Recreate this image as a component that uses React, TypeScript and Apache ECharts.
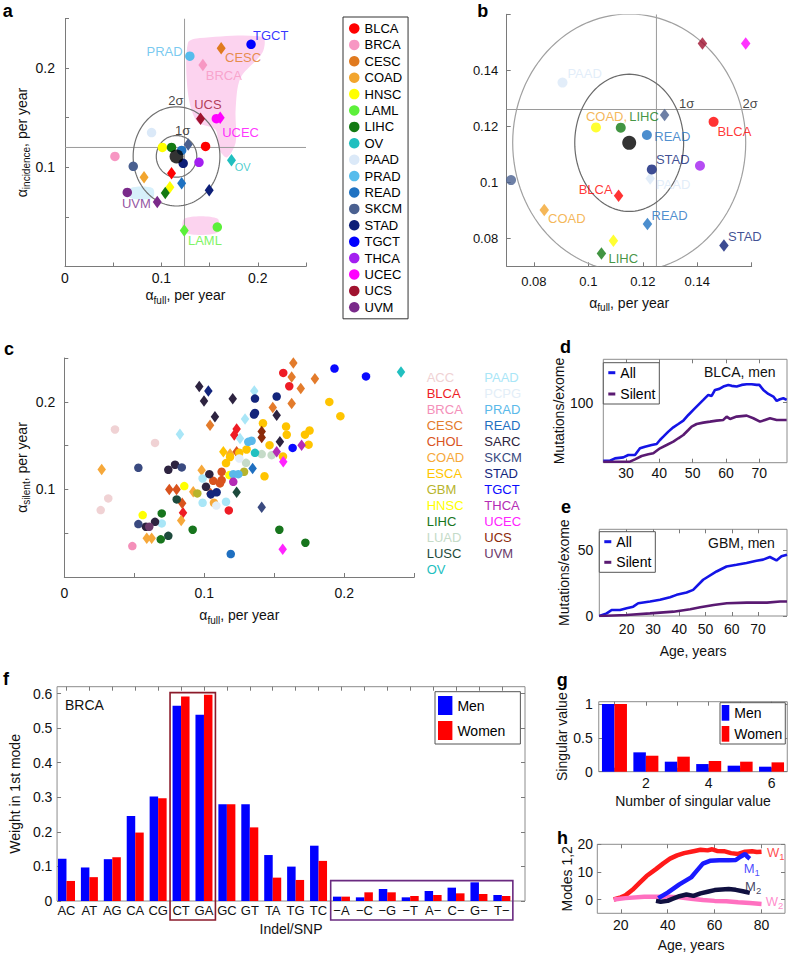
import { useEffect, useRef } from 'react';
import * as echarts from 'echarts';

const FONT = "'Liberation Sans', Arial, Helvetica, sans-serif";
const AXIS = '#7a7a7a';
const BOX = '#8c8c8c';
const TXT = '#111111';

// ---------------- panel a ----------------
const aTypes = ['BLCA', 'BRCA', 'CESC', 'COAD', 'HNSC', 'LAML', 'LIHC', 'OV', 'PAAD', 'PRAD', 'READ', 'SKCM', 'STAD', 'TGCT', 'THCA', 'UCEC', 'UCS', 'UVM'];
const aColors: Record<string, string> = {
  BLCA: '#ff0000', BRCA: '#f797c3', CESC: '#e07a1f', COAD: '#f2a52e', HNSC: '#ffff00', LAML: '#5cf03a',
  LIHC: '#137a13', OV: '#20bfbf', PAAD: '#dbe9f8', PRAD: '#56bcec', READ: '#1f72c2', SKCM: '#4a6090',
  STAD: '#0d1f78', TGCT: '#0000ff', THCA: '#a31ff0', UCEC: '#ff00ff', UCS: '#a0122f', UVM: '#7a2a8a',
};
const aPoints: [string, number, number, string][] = [
  ['BLCA', 0.1458, 0.121, 'c'], ['BLCA', 0.1105, 0.094, 'd'],
  ['BRCA', 0.0518, 0.111, 'c'], ['BRCA', 0.143, 0.203, 'd'],
  ['CESC', 0.162, 0.22, 'd'],
  ['COAD', 0.082, 0.09, 'd'],
  ['HNSC', 0.101, 0.12, 'c'], ['HNSC', 0.1088, 0.08, 'd'],
  ['LAML', 0.158, 0.0397, 'c'], ['LAML', 0.1237, 0.0364, 'd'],
  ['LIHC', 0.1105, 0.12, 'c'], ['LIHC', 0.104, 0.074, 'd'],
  ['OV', 0.1727, 0.107, 'd'],
  ['PAAD', 0.0898, 0.135, 'c'],
  ['PRAD', 0.1295, 0.212, 'c'],
  ['READ', 0.121, 0.117, 'c'], ['READ', 0.121, 0.084, 'd'],
  ['SKCM', 0.0708, 0.101, 'c'], ['SKCM', 0.1278, 0.123, 'd'],
  ['STAD', 0.1226, 0.104, 'c'], ['STAD', 0.1496, 0.0768, 'd'],
  ['TGCT', 0.193, 0.224, 'c'],
  ['THCA', 0.139, 0.105, 'c'],
  ['UCEC', 0.157, 0.149, 'c'], ['UCEC', 0.161, 0.15, 'd'],
  ['UCS', 0.1406, 0.149, 'd'],
  ['UVM', 0.0646, 0.0747, 'c'], ['UVM', 0.0957, 0.065, 'd'],
];
const aMean = [0.1157, 0.111];
const aSigma = [[0.021, 0.021], [0.045, 0.05]];
const aRef = [0.124, 0.12];
const aRange = [0, 0.25];
const aSigmaLabels: [string, number, number][] = [['2σ', 0.107, 0.1677], ['1σ', 0.114, 0.1374]];
const aLabels: [string, number, number, string][] = [
  ['TGCT', 0.195, 0.233, 'r'], ['PRAD', 0.122, 0.217, 'l'], ['CESC', 0.166, 0.211, 'r'], ['BRCA', 0.146, 0.193, 'r'],
  ['UCS', 0.134, 0.163, 'r'], ['UCEC', 0.163, 0.135, 'r'], ['OV', 0.176, 0.1, 'r'], ['UVM', 0.059, 0.0636, 'r'],
  ['LAML', 0.1275, 0.026, 'r'],
];
const aPinkUpper = [[0.1275, 0.2253], [0.14, 0.2303], [0.205, 0.2313], [0.205, 0.216], [0.182, 0.19], [0.177, 0.158], [0.177, 0.125], [0.168, 0.11], [0.16, 0.118], [0.156, 0.138], [0.137, 0.146], [0.1275, 0.175]];
const aPinkLower = [[0.124, 0.0485], [0.158, 0.0485], [0.158, 0.034], [0.124, 0.034]];
const aBlue = [[0.068, 0.079], [0.091, 0.079], [0.091, 0.069], [0.068, 0.069]];

// ---------------- panel b ----------------
const bPoints: [string, number, number, string][] = [
  ['UCS', 0.1419, 0.1496, 'd'], ['UCEC', 0.1578, 0.1496, 'd'],
  ['PAAD', 0.0905, 0.1356, 'c'], ['PAAD', 0.1227, 0.1014, 'd'],
  ['SKCM', 0.128, 0.124, 'd'], ['SKCM', 0.0716, 0.1008, 'c'],
  ['BLCA', 0.146, 0.1216, 'c'], ['BLCA', 0.1111, 0.0952, 'd'],
  ['HNSC', 0.1028, 0.1196, 'c'], ['HNSC', 0.1092, 0.0791, 'd'],
  ['LIHC', 0.1119, 0.1195, 'c'], ['LIHC', 0.1048, 0.0746, 'd'],
  ['READ', 0.1215, 0.1169, 'c'], ['READ', 0.1217, 0.0851, 'd'],
  ['THCA', 0.141, 0.1059, 'c'],
  ['STAD', 0.1233, 0.1046, 'c'], ['STAD', 0.1498, 0.0774, 'd'],
  ['COAD', 0.0838, 0.0901, 'd'],
];
const bMean = [0.115, 0.1141];
const bSigma = [[0.02, 0.0245], [0.0428, 0.046]];
const bRef = [0.125, 0.126];
const bRange = [0.07, 0.16];
const bSigmaLabels: [string, number, number][] = [['1σ', 0.1333, 0.128], ['2σ', 0.1566, 0.128]];
const bLabels: [string, string, number, number, string][] = [
  ['PAAD', 'PAAD', 0.0923, 0.1387, 'r'], ['COAD,', 'COAD', 0.0991, 0.1234, 'r'], ['LIHC', 'LIHC', 0.115, 0.1234, 'r'],
  ['READ', 'READ', 0.1242, 0.1165, 'r'], ['BLCA', 'BLCA', 0.1474, 0.1183, 'r'], ['STAD', 'STAD', 0.1248, 0.1082, 'r'],
  ['PAAD', 'PAAD', 0.1248, 0.0993, 'r'], ['BLCA', 'BLCA', 0.1089, 0.0976, 'l'], ['COAD', 'COAD', 0.0852, 0.0871, 'r'],
  ['READ', 'READ', 0.1232, 0.0883, 'r'], ['STAD', 'STAD', 0.1513, 0.0806, 'r'], ['LIHC', 'LIHC', 0.1074, 0.0729, 'r'],
];

// ---------------- panel c ----------------
const cLeg1 = ['ACC', 'BLCA', 'BRCA', 'CESC', 'CHOL', 'COAD', 'ESCA', 'GBM', 'HNSC', 'LIHC', 'LUAD', 'LUSC', 'OV'];
const cLeg2 = ['PAAD', 'PCPG', 'PRAD', 'READ', 'SARC', 'SKCM', 'STAD', 'TGCT', 'THCA', 'UCEC', 'UCS', 'UVM'];
const cColors: Record<string, string> = {
  ACC: '#f0d2d4', BLCA: '#ee1c25', BRCA: '#f48fb9', CESC: '#e37b2b', CHOL: '#d9531e', COAD: '#f6a83a',
  ESCA: '#ffc400', GBM: '#b7b42c', HNSC: '#ffff00', LIHC: '#17751d', LUAD: '#c5dbc8', LUSC: '#1d4a3c',
  OV: '#21c0c0', PAAD: '#a9e6f7', PCPG: '#e3eef8', PRAD: '#5ab9ea', READ: '#1f6fc0', SARC: '#2d2340',
  SKCM: '#3a4a80', STAD: '#13257c', TGCT: '#0a0aff', THCA: '#b52cb5', UCEC: '#ff24ff', UCS: '#8b2a0a', UVM: '#6b3a6b',
};
const cPoints: [string, number, number, string][] = [
  ['TGCT', 0.193, 0.238, 'c'], ['TGCT', 0.2155, 0.229, 'c'], ['TGCT', 0.1631, 0.1474, 'c'],
  ['OV', 0.2405, 0.234, 'd'], ['OV', 0.1362, 0.1417, 'c'],
  ['CESC', 0.1636, 0.2444, 'd'], ['CESC', 0.1624, 0.2284, 'd'], ['CESC', 0.179, 0.2263, 'd'], ['CESC', 0.1689, 0.2151, 'd'], ['CESC', 0.1624, 0.198, 'd'], ['CESC', 0.1041, 0.1733, 'd'], ['CESC', 0.1489, 0.1935, 'd'],
  ['BLCA', 0.1564, 0.233, 'c'], ['BLCA', 0.1607, 0.2178, 'c'], ['BLCA', 0.1175, 0.076, 'c'], ['BLCA', 0.1231, 0.169, 'd'], ['BLCA', 0.1214, 0.1622, 'd'], ['BLCA', 0.0848, 0.0733, 'd'],
  ['ESCA', 0.1893, 0.1999, 'c'], ['ESCA', 0.1972, 0.1836, 'c'], ['ESCA', 0.1419, 0.1755, 'c'], ['ESCA', 0.1584, 0.1718, 'c'], ['ESCA', 0.1589, 0.1624, 'c'], ['ESCA', 0.1719, 0.1625, 'c'], ['ESCA', 0.1752, 0.1672, 'c'], ['ESCA', 0.1745, 0.1511, 'c'], ['ESCA', 0.1562, 0.1376, 'c'], ['ESCA', 0.1466, 0.1505, 'c'], ['ESCA', 0.1155, 0.13, 'c'], ['ESCA', 0.1184, 0.137, 'c'], ['ESCA', 0.1302, 0.1456, 'c'], ['ESCA', 0.125, 0.1418, 'c'], ['ESCA', 0.143, 0.115, 'c'], ['ESCA', 0.1136, 0.1429, 'd'],
  ['STAD', 0.1517, 0.206, 'c'], ['STAD', 0.1362, 0.2037, 'c'], ['STAD', 0.1362, 0.1873, 'c'], ['STAD', 0.1355, 0.1855, 'c'], ['STAD', 0.1088, 0.0967, 'c'], ['STAD', 0.1047, 0.0945, 'c'], ['STAD', 0.1029, 0.2124, 'd'],
  ['SARC', 0.0964, 0.2175, 'd'], ['SARC', 0.0998, 0.201, 'd'], ['SARC', 0.1203, 0.2035, 'd'], ['SARC', 0.1076, 0.1828, 'd'], ['SARC', 0.1517, 0.1847, 'd'], ['SARC', 0.154, 0.1543, 'd'], ['SARC', 0.1012, 0.103, 'c'], ['SARC', 0.1036, 0.1174, 'c'], ['SARC', 0.0743, 0.1224, 'c'], ['SARC', 0.0791, 0.1282, 'c'], ['SARC', 0.0583, 0.0574, 'c'], ['SARC', 0.0648, 0.063, 'c'],
  ['UVM', 0.0607, 0.0574, 'c'],
  ['SKCM', 0.0529, 0.1247, 'c'], ['SKCM', 0.0839, 0.1251, 'c'], ['SKCM', 0.0529, 0.0604, 'c'], ['SKCM', 0.141, 0.0795, 'd'],
  ['PAAD', 0.0826, 0.163, 'd'], ['PAAD', 0.1291, 0.1804, 'd'], ['PAAD', 0.1357, 0.2124, 'd'], ['PAAD', 0.1255, 0.1581, 'd'], ['PAAD', 0.0988, 0.1125, 'c'], ['PAAD', 0.0988, 0.0847, 'c'], ['PAAD', 0.1155, 0.0859, 'c'], ['PAAD', 0.0696, 0.0612, 'c'],
  ['PCPG', 0.125, 0.1353, 'c'], ['PCPG', 0.1086, 0.0815, 'c'],
  ['PRAD', 0.1314, 0.1543, 'c'], ['PRAD', 0.1338, 0.1555, 'c'], ['PRAD', 0.1207, 0.1174, 'c'], ['PRAD', 0.1243, 0.1174, 'c'],
  ['READ', 0.1189, 0.0262, 'c'], ['READ', 0.1345, 0.124, 'd'],
  ['GBM', 0.1284, 0.1201, 'c'], ['GBM', 0.095, 0.0954, 'c'],
  ['LUAD', 0.141, 0.1403, 'c'], ['LUAD', 0.1481, 0.1391, 'c'], ['LUAD', 0.1298, 0.1303, 'c'],
  ['THCA', 0.1695, 0.1505, 'd'], ['THCA', 0.1517, 0.1429, 'd'], ['THCA', 0.1207, 0.1087, 'c'],
  ['UCEC', 0.1564, 0.1315, 'd'], ['UCEC', 0.156, 0.0316, 'd'],
  ['UCS', 0.141, 0.166, 'd'], ['UCS', 0.141, 0.1592, 'd'],
  ['LIHC', 0.0917, 0.054, 'c'], ['LIHC', 0.1536, 0.054, 'c'], ['LIHC', 0.1722, 0.0391, 'c'], ['LIHC', 0.0696, 0.0726, 'c'], ['LIHC', 0.0689, 0.043, 'c'],
  ['LUSC', 0.0743, 0.047, 'c'], ['LUSC', 0.0803, 0.0886, 'c'], ['LUSC', 0.1231, 0.0967, 'd'],
  ['HNSC', 0.0857, 0.1038, 'c'], ['HNSC', 0.056, 0.0707, 'c'], ['HNSC', 0.1179, 0.1163, 'c'],
  ['COAD', 0.0267, 0.1228, 'd'], ['COAD', 0.0981, 0.122, 'd'], ['COAD', 0.0921, 0.0973, 'd'], ['COAD', 0.0835, 0.0645, 'd'], ['COAD', 0.0589, 0.0441, 'd'], ['COAD', 0.0624, 0.0441, 'd'], ['COAD', 0.1184, 0.1403, 'd'], ['COAD', 0.1069, 0.0847, 'c'],
  ['CHOL', 0.075, 0.1, 'd'], ['CHOL', 0.0802, 0.1, 'd'], ['CHOL', 0.0842, 0.0843, 'd'], ['CHOL', 0.1231, 0.1429, 'd'], ['CHOL', 0.1045, 0.0954, 'd'], ['CHOL', 0.1124, 0.1201, 'c'], ['CHOL', 0.1124, 0.1106, 'c'], ['CHOL', 0.1064, 0.1098, 'c'], ['CHOL', 0.1112, 0.1068, 'c'],
  ['ACC', 0.0362, 0.1684, 'c'], ['ACC', 0.0648, 0.1531, 'c'], ['ACC', 0.0314, 0.0897, 'c'], ['ACC', 0.026, 0.0764, 'c'],
  ['BRCA', 0.0486, 0.0353, 'c'],
];

// ---------------- panels d, e ----------------
const dAll = [[23.2, 3.3], [25.2, 3.3], [26.7, 7.2], [29.2, 8.9], [30.7, 12.8], [32.7, 12.8], [34.2, 23.9], [35.7, 26.7], [37.7, 29.4], [39.2, 31.1], [40.2, 37.8], [41.2, 43.3], [42.7, 51.7], [44.2, 58.9], [45.7, 64.4], [47.2, 70], [48.7, 79.4], [50.2, 87.8], [51.7, 96.1], [53.2, 104.4], [54.7, 112.8], [55.7, 111.1], [56.7, 121.1], [58, 122.8], [59.2, 126.7], [60.7, 129.4], [61.7, 127.8], [63.2, 126.7], [64.7, 129.4], [66.2, 130.6], [67.7, 130.6], [69.2, 129.4], [70, 129.4], [71.2, 121.1], [72.7, 114.4], [74.2, 110], [75.2, 102.8], [76.2, 105.6], [77.2, 107.2], [78.2, 104.4]];
const dSilent = [[23.2, 1.7], [31.2, 1.7], [32.7, 5.6], [34.7, 11.1], [36.7, 13.9], [38.2, 15.6], [40.2, 23.9], [42.2, 29.4], [44.2, 35], [45.7, 40.6], [47.2, 46.1], [48.7, 54.4], [49.7, 60], [51.2, 64.4], [53.2, 66.7], [55.2, 68.3], [57.2, 70], [59.2, 71.1], [60.2, 76.7], [61.2, 72.8], [63.2, 76.7], [66.2, 78.3], [68.2, 73.9], [70.2, 68.3], [71.7, 71.1], [73.2, 73.9], [75.2, 71.1], [78.2, 71.1]];
const eAll = [[9.6, 0], [12.4, 2], [14.3, 4.6], [17.5, 4.6], [20, 5.9], [22.5, 7.1], [24.4, 9.7], [28.9, 11], [32.7, 12.3], [36.5, 14.3], [39, 16.1], [42.8, 17.9], [45.3, 19.9], [49.1, 27.6], [54.2, 33.9], [58, 37.7], [61.8, 39], [65.6, 40.4], [69.4, 42.1], [71.9, 42.9], [74.5, 44.9], [77, 42.3], [78.9, 45.4], [81, 46.7]];
const eSilent = [[9.6, 0], [20, 0.8], [28.9, 2], [37.8, 3.3], [44.2, 5.1], [48, 6.6], [53.1, 8.4], [58.1, 9.7], [65.7, 10.2], [73.4, 10.2], [78.4, 11], [81, 11]];

// ---------------- panel f ----------------
const fCats = ['AC', 'AT', 'AG', 'CA', 'CG', 'CT', 'GA', 'GC', 'GT', 'TA', 'TG', 'TC', '\u2212A', '\u2212C', '\u2212G', '\u2212T', 'A\u2212', 'C\u2212', 'G\u2212', 'T\u2212'];
const fMen = [0.122, 0.097, 0.121, 0.246, 0.302, 0.565, 0.539, 0.28, 0.28, 0.133, 0.0995, 0.16, 0.0126, 0.0106, 0.0348, 0.0106, 0.029, 0.0386, 0.054, 0.0174];
const fWomen = [0.058, 0.069, 0.1266, 0.198, 0.297, 0.592, 0.597, 0.28, 0.213, 0.0676, 0.0609, 0.116, 0.0126, 0.0251, 0.0251, 0.0145, 0.0174, 0.0222, 0.0203, 0.0145];
const fBoxes = [[5.52, 7.5, 0.603], [12.53, 20.48, 0.059]];
const fBoxColors = ['#8b1a2a', '#6a2a80'];
const fYTicks = [0, 0.1, 0.2, 0.3, 0.4, 0.5, 0.6];

// ---------------- panel g ----------------
const gMen = [1, 0.286, 0.148, 0.113, 0.089, 0.074];
const gWomen = [1, 0.236, 0.222, 0.158, 0.148, 0.138];

// ---------------- panel h ----------------
const hW1 = [[17, 0], [20, 0.8], [22, 1.5], [25, 3.5], [28, 6], [31, 8.5], [35, 11], [38, 13], [41, 14.8], [44, 16], [47, 16.8], [51, 17.5], [54, 18], [57, 17.8], [59, 18.2], [61, 17.6], [64, 17.5], [67, 16.8], [70, 16.5], [73, 17.3], [76, 17.5], [78, 17.2], [80, 17.3]];
const hM1 = [[36, 0.5], [40, 2.5], [45, 5.5], [50, 8], [52, 10], [55, 13], [58, 14], [62, 14.2], [66, 14.2], [69, 14.3], [71, 15.5], [73, 16.5], [74, 15.5], [75, 14.8]];
const hM2 = [[35, -0.5], [37, -0.8], [40, -0.5], [42, 0.2], [45, 1.2], [48, 1.8], [51, 1.3], [54, 2.2], [57, 2.8], [60, 3.4], [63, 3.6], [66, 3.8], [69, 3.5], [72, 3], [75, 2.4]];
const hW2 = [[17, 0], [22, 0.5], [30, 1], [40, 1], [45, 0.8], [50, 0.3], [55, -0.2], [60, -0.5], [65, -0.6], [70, -1], [75, -1.3], [80, -1.6]];
const hLabels: [string, string, number, number, string][] = [
  ['W', '1', 82.3, 17.2, '#ff1a1a'], ['M', '1', 72.4, 11.2, '#1a1aff'], ['M', '2', 73, 4.7, '#101040'], ['W', '2', 81.8, -0.7, '#ff70c0'],
];

// ---------------- helpers ----------------
function fmtNum(v: any) {
  return String(parseFloat(Number(v).toFixed(4)));
}

const RICH = {
  g: { fontSize: 14, lineHeight: 20, fontFamily: FONT, color: TXT },
  s: { fontSize: 10, lineHeight: 12, verticalAlign: 'bottom', fontFamily: FONT, color: TXT },
};

function ax(o: any) {
  return {
    type: 'value',
    gridIndex: o.grid,
    position: o.pos,
    min: o.min,
    max: o.max,
    silent: true,
    splitLine: { show: false },
    axisLine: { show: !!o.line, onZero: false, lineStyle: { color: AXIS, width: 1 } },
    axisTick: o.ticks
      ? { show: true, inside: true, length: 4, customValues: o.ticks, lineStyle: { color: AXIS } }
      : { show: false },
    axisLabel: o.labels
      ? { show: true, customValues: o.labels, formatter: o.fmt || fmtNum, margin: o.margin, fontSize: o.fs || 14, color: TXT, fontFamily: FONT }
      : { show: false },
    name: o.name,
    nameLocation: 'middle',
    nameGap: o.gap,
    nameTextStyle: { fontSize: 14, color: TXT, fontFamily: FONT, rich: RICH },
  };
}

function ellipsePts(api: any, c: number[], r: number[]) {
  const pts: any[] = [];
  for (let k = 0; k <= 120; k++) {
    const t = (k / 120) * Math.PI * 2;
    pts.push(api.coord([c[0] + r[0] * Math.cos(t), c[1] + r[1] * Math.sin(t)]));
  }
  return pts;
}

function lineEl(p1: number[], p2: number[], color: string) {
  return { type: 'line', shape: { x1: p1[0], y1: p1[1], x2: p2[0], y2: p2[1] }, style: { stroke: color, lineWidth: 1 } };
}

function pointItems(list: [string, number, number, string][], colors: Record<string, string>, cs: number, ds: number[]) {
  return list.map((p) => ({
    value: [p[1], p[2]],
    symbol: p[3] === 'd' ? 'diamond' : 'circle',
    symbolSize: p[3] === 'd' ? ds : cs,
    itemStyle: { color: colors[p[0]] },
  }));
}

function buildOption() {
  const fPos = fCats.map((_, i) => i + 1);
  const gridBox = { show: true, borderColor: BOX, borderWidth: 1, backgroundColor: 'rgba(0,0,0,0)' };
  const grid = [
    { left: 65, top: 18.5, width: 241, height: 248 },
    { left: 506.7, top: 14.3, width: 245, height: 252 },
    { left: 64.3, top: 358, width: 350, height: 219 },
    { left: 603.3, top: 359.3, width: 183.7, height: 103.4, ...gridBox },
    { left: 599.3, top: 529.3, width: 187.7, height: 86.7, ...gridBox },
    { left: 47.7, top: 686.7, width: 477.3, height: 214.3, ...gridBox },
    { left: 598.75, top: 701.7, width: 188.5, height: 70, ...gridBox },
    { left: 597.3, top: 844.3, width: 187.7, height: 69, ...gridBox },
  ];
  const fullName = '{g|α}{s|full}{g|, per year}';
  const xAxis = [
    ax({ grid: 0, min: aRange[0], max: aRange[1], line: true, ticks: [0.05, 0.1, 0.15, 0.2, 0.25], labels: [0, 0.1, 0.2], margin: 4.8, name: fullName, gap: 18.5 }),
    ax({ grid: 1, min: bRange[0], max: bRange[1], line: true, ticks: [0.08, 0.1, 0.12, 0.14, 0.16], labels: [0.08, 0.1, 0.12, 0.14], margin: 8.2, fs: 13, name: fullName, gap: 26.4 }),
    ax({ grid: 2, min: 0, max: 0.25, line: true, ticks: [0.05, 0.1, 0.15, 0.2, 0.25], labels: [0, 0.1, 0.2], margin: 9, name: fullName, gap: 28 }),
    ax({ grid: 3, min: 23.2, max: 78.3, ticks: [30, 40, 50, 60, 70], labels: [30, 40, 50, 60, 70], margin: 3.3 }),
    ax({ grid: 4, min: 9.6, max: 81, ticks: [20, 30, 40, 50, 60, 70], labels: [20, 30, 40, 50, 60, 70], margin: 6.3, name: 'Age, years', gap: 28 }),
    ax({ grid: 5, min: 0.589, max: 21.01, labels: fPos, fmt: (v: number) => fCats[Math.round(v) - 1] || '', margin: 2.5, fs: 13, name: 'Indel/SNP', gap: 21 }),
    ax({ grid: 6, min: 0.5, max: 6.5, ticks: [1, 2, 3, 4, 5, 6], labels: [2, 4, 6], margin: 4.6, name: 'Number of singular value', gap: 22 }),
    ax({ grid: 7, min: 10, max: 90, ticks: [20, 40, 60, 80], labels: [20, 40, 60, 80], margin: 4.7, name: 'Age, years', gap: 24.7 }),
    ax({ grid: 3, pos: 'top', min: 23.2, max: 78.3, ticks: [30, 40, 50, 60, 70] }),
    ax({ grid: 4, pos: 'top', min: 9.6, max: 81, ticks: [20, 30, 40, 50, 60, 70] }),
    ax({ grid: 5, pos: 'top', min: 0.589, max: 21.01, ticks: fPos }),
    ax({ grid: 6, pos: 'top', min: 0.5, max: 6.5, ticks: [1, 2, 3, 4, 5, 6] }),
    ax({ grid: 7, pos: 'top', min: 10, max: 90, ticks: [20, 40, 60, 80] }),
  ];
  const yAxis = [
    ax({ grid: 0, min: aRange[0], max: aRange[1], line: true, ticks: [0.05, 0.1, 0.15, 0.2, 0.25], labels: [0.1, 0.2], margin: 10, name: '{g|α}{s|incidence}{g|, per year}', gap: 31 }),
    ax({ grid: 1, min: bRange[0], max: bRange[1], line: true, ticks: [0.08, 0.1, 0.12, 0.14, 0.16], labels: [0.08, 0.1, 0.12, 0.14], margin: 8.5, fs: 13 }),
    ax({ grid: 2, min: 0, max: 0.25, line: true, ticks: [0.05, 0.1, 0.15, 0.2, 0.25], labels: [0.1, 0.2], margin: 9, name: '{g|α}{s|silent}{g|, per year}', gap: 31 }),
    ax({ grid: 3, min: 0, max: 172, ticks: [100], labels: [100], margin: 10, name: 'Mutations/exome', gap: 32 }),
    ax({ grid: 4, min: 0, max: 66, ticks: [0, 50], labels: [0, 50], margin: 6, name: 'Mutations/exome', gap: 28 }),
    ax({ grid: 5, min: 0, max: 0.62, ticks: fYTicks, labels: fYTicks, margin: 4.7, name: 'Weight in 1st mode', gap: 30.5 }),
    ax({ grid: 6, min: 0, max: 1.034, ticks: [0, 0.5, 1], labels: [0, 0.5, 1], margin: 6, name: 'Singular value', gap: 30 }),
    ax({ grid: 7, min: -5, max: 20, ticks: [0, 10, 20], labels: [0, 10, 20], margin: 4.3, name: 'Modes 1,2', gap: 11 }),
    ax({ grid: 3, pos: 'right', min: 0, max: 172, ticks: [100] }),
    ax({ grid: 4, pos: 'right', min: 0, max: 66, ticks: [0, 50] }),
    ax({ grid: 5, pos: 'right', min: 0, max: 0.62, ticks: fYTicks }),
    ax({ grid: 6, pos: 'right', min: 0, max: 1.034, ticks: [0, 0.5, 1] }),
    ax({ grid: 7, pos: 'right', min: -5, max: 20, ticks: [0, 10, 20] }),
  ];

  const series: any[] = [];

  // panel a: one series per type (legend a)
  aTypes.forEach((t) => {
    series.push({
      type: 'scatter', name: t, xAxisIndex: 0, yAxisIndex: 0, z: 3, silent: true,
      itemStyle: { color: aColors[t], opacity: 1 },
      data: pointItems(aPoints.filter((p) => p[0] === t), aColors, 9.5, [9, 12.5]),
    });
  });
  // panel a decorations
  series.push({
    type: 'custom', xAxisIndex: 0, yAxisIndex: 0, z: 1, silent: true, clip: true,
    data: [aMean],
    renderItem: (_p: any, api: any) => {
      const c = (p: number[]) => api.coord(p);
      return {
        type: 'group',
        children: [
          { type: 'polygon', shape: { points: aPinkUpper.map(c), smooth: 0.3 }, style: { fill: '#fcd3ef' } },
          { type: 'polygon', shape: { points: aPinkLower.map(c), smooth: 0.3 }, style: { fill: '#fcd3ef' } },
          { type: 'polygon', shape: { points: aBlue.map(c), smooth: 0.3 }, style: { fill: '#d7f0fb' } },
          lineEl(c([aRange[0], aRef[1]]), c([aRange[1], aRef[1]]), '#9a9a9a'),
          lineEl(c([aRef[0], aRange[0]]), c([aRef[0], aRange[1]]), '#9a9a9a'),
          ...aSigma.map((r) => ({ type: 'polygon', shape: { points: ellipsePts(api, aMean, r) }, style: { fill: 'none', stroke: '#707070', lineWidth: 1.2 } })),
        ],
      };
    },
  });
  series.push({
    type: 'scatter', xAxisIndex: 0, yAxisIndex: 0, z: 4, silent: true, symbolSize: 14,
    itemStyle: { color: '#000' }, data: [aMean],
  });
  series.push({
    type: 'scatter', xAxisIndex: 0, yAxisIndex: 0, z: 5, silent: true, symbolSize: 0,
    data: [
      ...aLabels.map(([t, x, y, al]) => ({
        value: [x, y],
        label: { show: true, formatter: t, position: al === 'l' ? 'left' : 'right', distance: 0, color: aColors[t], fontSize: t === 'OV' ? 11 : 13, fontFamily: FONT },
      })),
      ...aSigmaLabels.map(([t, x, y]) => ({
        value: [x, y],
        label: { show: true, formatter: t, position: 'right', distance: 0, color: TXT, fontSize: 13, fontFamily: FONT },
      })),
    ],
  });

  // panel b
  series.push({
    type: 'custom', xAxisIndex: 1, yAxisIndex: 1, z: 1, silent: true, clip: true,
    data: [bMean],
    renderItem: (_p: any, api: any) => {
      const c = (p: number[]) => api.coord(p);
      return {
        type: 'group',
        children: [
          lineEl(c([bRange[0], bRef[1]]), c([bRange[1], bRef[1]]), '#9a9a9a'),
          lineEl(c([bRef[0], bRange[0]]), c([bRef[0], bRange[1]]), '#9a9a9a'),
          { type: 'polygon', shape: { points: ellipsePts(api, bMean, bSigma[0]) }, style: { fill: 'none', stroke: '#6a6a6a', lineWidth: 1.2 } },
          { type: 'polygon', shape: { points: ellipsePts(api, bMean, bSigma[1]) }, style: { fill: 'none', stroke: '#a0a0a0', lineWidth: 1.2 } },
        ],
      };
    },
  });
  series.push({
    type: 'scatter', xAxisIndex: 1, yAxisIndex: 1, z: 3, silent: true,
    data: pointItems(bPoints, aColors, 10, [9.5, 12.5]),
  });
  series.push({
    type: 'scatter', xAxisIndex: 1, yAxisIndex: 1, z: 4, silent: true, symbolSize: 14,
    itemStyle: { color: '#000' }, data: [bMean],
  });
  series.push({
    type: 'scatter', xAxisIndex: 1, yAxisIndex: 1, z: 5, silent: true, symbolSize: 0,
    data: [
      ...bLabels.map(([t, ty, x, y, al]) => ({
        value: [x, y],
        label: { show: true, formatter: t, position: al === 'l' ? 'left' : 'right', distance: 0, color: aColors[ty], fontSize: 13, fontFamily: FONT },
      })),
      ...bSigmaLabels.map(([t, x, y]) => ({
        value: [x, y],
        label: { show: true, formatter: t, position: 'right', distance: 0, color: TXT, fontSize: 13, fontFamily: FONT },
      })),
    ],
  });

  // panel c
  [...cLeg1, ...cLeg2].forEach((t) => {
    series.push({
      type: 'scatter', name: t, xAxisIndex: 2, yAxisIndex: 2, z: 3, silent: true,
      itemStyle: { color: cColors[t], opacity: 1 },
      data: pointItems(cPoints.filter((p) => p[0] === t), cColors, 8.5, [8.5, 11.5]),
    });
  });

  // panels d, e
  const ln = (name: string, xi: number, data: number[][], color: string, w: number) => ({
    type: 'line', name, xAxisIndex: xi, yAxisIndex: xi, data, showSymbol: false, symbol: 'none', silent: true, z: 3,
    lineStyle: { color, width: w }, itemStyle: { color },
  });
  series.push(ln('All', 3, dAll, '#1414e6', 2.6));
  series.push(ln('Silent', 3, dSilent, '#5a1a72', 2.6));
  series.push(ln('All', 4, eAll, '#1414e6', 2.6));
  series.push(ln('Silent', 4, eSilent, '#5a1a72', 2.6));

  // panel f
  series.push({
    type: 'bar', name: 'Men', xAxisIndex: 5, yAxisIndex: 5, barWidth: 8.5, barGap: '0%', silent: true,
    itemStyle: { color: '#0000ff' }, data: fMen.map((v, i) => [i + 1, v]),
  });
  series.push({
    type: 'bar', name: 'Women', xAxisIndex: 5, yAxisIndex: 5, barWidth: 8.5, barGap: '0%', silent: true,
    itemStyle: { color: '#ff0000' }, data: fWomen.map((v, i) => [i + 1, v]),
  });
  series.push({
    type: 'custom', xAxisIndex: 5, yAxisIndex: 5, z: 6, silent: true, clip: false,
    data: fBoxes,
    renderItem: (params: any, api: any) => {
      const p0 = api.coord([api.value(0), api.value(2)]);
      const p1 = api.coord([api.value(1), 0]);
      return {
        type: 'rect',
        shape: { x: p0[0], y: p0[1], width: p1[0] - p0[0], height: p1[1] - p0[1] + 19 },
        style: { fill: 'none', stroke: fBoxColors[params.dataIndex], lineWidth: 1.6 },
      };
    },
  });

  // panel g
  series.push({
    type: 'bar', name: 'Men', xAxisIndex: 6, yAxisIndex: 6, barWidth: 12.5, barGap: '0%', silent: true,
    itemStyle: { color: '#0000ff' }, data: gMen.map((v, i) => [i + 1, v]),
  });
  series.push({
    type: 'bar', name: 'Women', xAxisIndex: 6, yAxisIndex: 6, barWidth: 12.5, barGap: '0%', silent: true,
    itemStyle: { color: '#ff0000' }, data: gWomen.map((v, i) => [i + 1, v]),
  });

  // panel h
  series.push(ln('W1', 7, hW1, '#ff1a1a', 4.5));
  series.push(ln('W2', 7, hW2, '#ff70c0', 4.5));
  series.push(ln('M1', 7, hM1, '#1a1aff', 4.5));
  series.push(ln('M2', 7, hM2, '#101040', 4.5));
  series.push({
    type: 'scatter', xAxisIndex: 7, yAxisIndex: 7, z: 5, silent: true, symbolSize: 0,
    data: hLabels.map(([m, s, x, y, col]) => ({
      value: [x, y],
      label: {
        show: true, formatter: `{m|${m}}{s|${s}}`, position: 'right', distance: 0,
        rich: {
          m: { fontSize: 13, lineHeight: 18, color: col, fontFamily: FONT },
          s: { fontSize: 9.5, lineHeight: 11, verticalAlign: 'bottom', color: col, fontFamily: FONT },
        },
      },
    })),
  });

  const legText = { fontSize: 13, color: '#000', fontFamily: FONT };
  const legend = [
    {
      data: aTypes, orient: 'vertical', left: 343, top: 17, icon: 'circle', itemWidth: 10.5, itemHeight: 13,
      itemGap: 3.4, itemTextGap: 4, padding: [5, 6, 5, 6], borderColor: '#333', borderWidth: 1,
      backgroundColor: '#fff', textStyle: legText, selectedMode: false,
    },
    {
      data: cLeg1.map((n) => ({ name: n, textStyle: { color: cColors[n] } })), orient: 'vertical', left: 421.7, top: 371.2,
      icon: 'none', itemWidth: 0, itemHeight: 13, itemGap: 3, itemTextGap: 0, padding: 0, textStyle: legText, selectedMode: false,
    },
    {
      data: cLeg2.map((n) => ({ name: n, textStyle: { color: cColors[n] } })), orient: 'vertical', left: 479.3, top: 371.2,
      icon: 'none', itemWidth: 0, itemHeight: 13, itemGap: 3, itemTextGap: 0, padding: 0, textStyle: legText, selectedMode: false,
    },
    {
      data: ['All', 'Silent'], orient: 'vertical', left: 603.3, top: 362.7, icon: 'rect', itemWidth: 7, itemHeight: 3,
      itemGap: 7.3, itemTextGap: 5, padding: [3, 4, 3, 5], borderColor: '#555', borderWidth: 1, backgroundColor: '#fff',
      textStyle: { ...legText, fontSize: 14 }, selectedMode: false,
    },
    {
      data: ['All', 'Silent'], orient: 'vertical', left: 599.3, top: 531.7, icon: 'rect', itemWidth: 7, itemHeight: 3,
      itemGap: 6.6, itemTextGap: 5, padding: [3, 4, 3, 5], borderColor: '#555', borderWidth: 1, backgroundColor: '#fff',
      textStyle: { ...legText, fontSize: 14 }, selectedMode: false,
    },
    {
      data: ['Men', 'Women'], orient: 'vertical', left: 435, top: 691.7, icon: 'rect', itemWidth: 14.4, itemHeight: 19,
      itemGap: 6, itemTextGap: 7, padding: [4.3, 15, 4, 3], borderColor: '#555', borderWidth: 1, backgroundColor: '#fff',
      textStyle: { ...legText, fontSize: 14 }, selectedMode: false,
    },
    {
      data: ['Men', 'Women'], orient: 'vertical', left: 720, top: 702.7, icon: 'rect', itemWidth: 7.6, itemHeight: 15.7,
      itemGap: 5.3, itemTextGap: 4, padding: [2.3, 3, 2.3, 1.7], borderColor: '#555', borderWidth: 1, backgroundColor: '#fff',
      textStyle: { ...legText, fontSize: 14 }, selectedMode: false,
    },
  ];

  const letters: [string, number, number][] = [
    ['a', 2.7, 11.3], ['b', 477.3, 10.7], ['c', 4, 349], ['d', 560, 347], ['e', 561, 507], ['f', 3, 679], ['g', 556.7, 680], ['h', 557, 838],
  ];
  const notes: [string, number, number][] = [['BLCA, men', 704, 371.7], ['GBM, men', 708, 542.7], ['BRCA', 65, 705]];
  const graphic = [
    ...letters.map(([t, x, y]) => ({
      type: 'text', x, y, silent: true,
      style: { text: t, font: `bold 18px ${FONT}`, fill: '#000', textAlign: 'left', textVerticalAlign: 'middle', align: 'left', verticalAlign: 'middle' },
    })),
    ...notes.map(([t, x, y]) => ({
      type: 'text', x, y, silent: true, z: 10,
      style: { text: t, font: `14px ${FONT}`, fill: TXT, textAlign: 'left', textVerticalAlign: 'middle', align: 'left', verticalAlign: 'middle' },
    })),
  ];

  return {
    animation: false,
    backgroundColor: '#ffffff',
    textStyle: { fontFamily: FONT },
    grid,
    xAxis,
    yAxis,
    legend,
    series,
    graphic,
  };
}

export default function App() {
  const ref = useRef<HTMLDivElement>(null);
  useEffect(() => {
    document.body.style.margin = '0';
    const chart = echarts.init(ref.current as HTMLDivElement, null, { renderer: 'svg', width: 788, height: 953 });
    chart.setOption(buildOption() as any);
    return () => chart.dispose();
  }, []);
  return <div ref={ref} style={{ position: 'absolute', left: 0, top: 0, width: 788, height: 953 }} />;
}
